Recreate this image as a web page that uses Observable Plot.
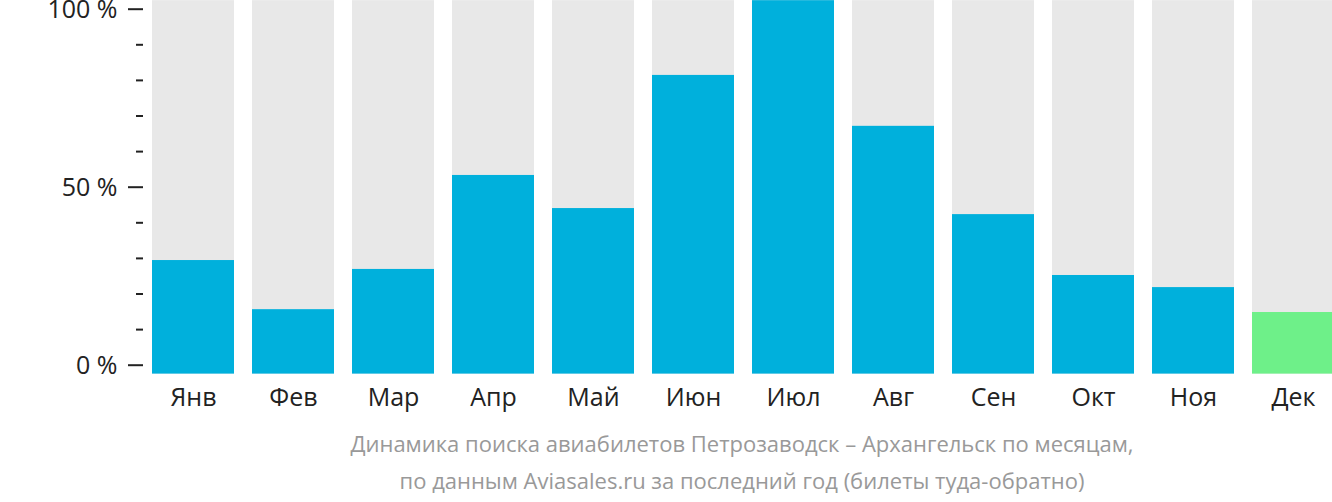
<!DOCTYPE html>
<html>
<head>
<meta charset="utf-8">
<script src="https://cdn.jsdelivr.net/npm/d3@7"></script>
<script src="https://cdn.jsdelivr.net/npm/@observablehq/plot@0.6"></script>
<style>
  html, body { margin: 0; padding: 0; background: #fff; }
  #chart svg { display: block; }
  #caption {
    margin-left: 152px; width: 1180px; text-align: center;
    font-family: "Open Sans", sans-serif; font-size: 22px; line-height: 37px;
    color: #999; margin-top: 5px;
  }
</style>
</head>
<body>
<div id="chart"></div>
<div id="caption">Динамика поиска авиабилетов Петрозаводск – Архангельск по месяцам,<br>по данным Aviasales.ru за последний год (билеты туда-обратно)</div>
<script>
const months = ["Янв","Фев","Мар","Апр","Май","Июн","Июл","Авг","Сен","Окт","Ноя","Дек"];
const values = [29.4, 15.6, 26.9, 53.3, 44.0, 81.4, 102.4, 67.1, 42.3, 25.2, 21.8, 14.8];
const highlight = ["Дек"];
const baseValue = -2.5;
const topValue = 102.4;
const majorTicks = [0, 50, 100];
const minorTicks = [10, 20, 30, 40, 60, 70, 80, 90];

const data = months.map((m, i) => ({month: m, value: values[i], hl: highlight.includes(m)}));

const chart = Plot.plot({
  width: 1332,
  height: 420,
  marginLeft: 143,
  marginRight: 0,
  marginTop: 0,
  marginBottom: 46.5,
  style: {fontFamily: "'Open Sans', sans-serif", color: "#222", background: "#fff"},
  x: {domain: months, range: [152, 1334], paddingInner: 0.18, paddingOuter: 0},
  y: {domain: [0, 100], range: [364.7, 8.7]},
  marks: [
    Plot.barY(data, {x: "month", y1: baseValue, y2: topValue, fill: "#e8e8e8"}),
    Plot.barY(data, {x: "month", y1: baseValue, y2: "value", fill: d => d.hl ? "#6ef089" : "#00b0dc"}),
    Plot.axisY({ticks: minorTicks, tickSize: 7, tickFormat: () => "", strokeWidth: 2, stroke: "#222", label: null}),
    Plot.axisY({ticks: majorTicks, tickSize: 15, tickFormat: () => "", strokeWidth: 2, stroke: "#222", label: null}),
    Plot.axisY({ticks: majorTicks, tickSize: 0, tickPadding: 26, dy: 1.2, tickFormat: d => d + " %", fontSize: 25, fill: "#222", label: null}),
    Plot.axisX({tickSize: 0, tickPadding: 14, fontSize: 25, fill: "#222", label: null})
  ]
});
document.getElementById("chart").appendChild(chart);
</script>
</body>
</html>
